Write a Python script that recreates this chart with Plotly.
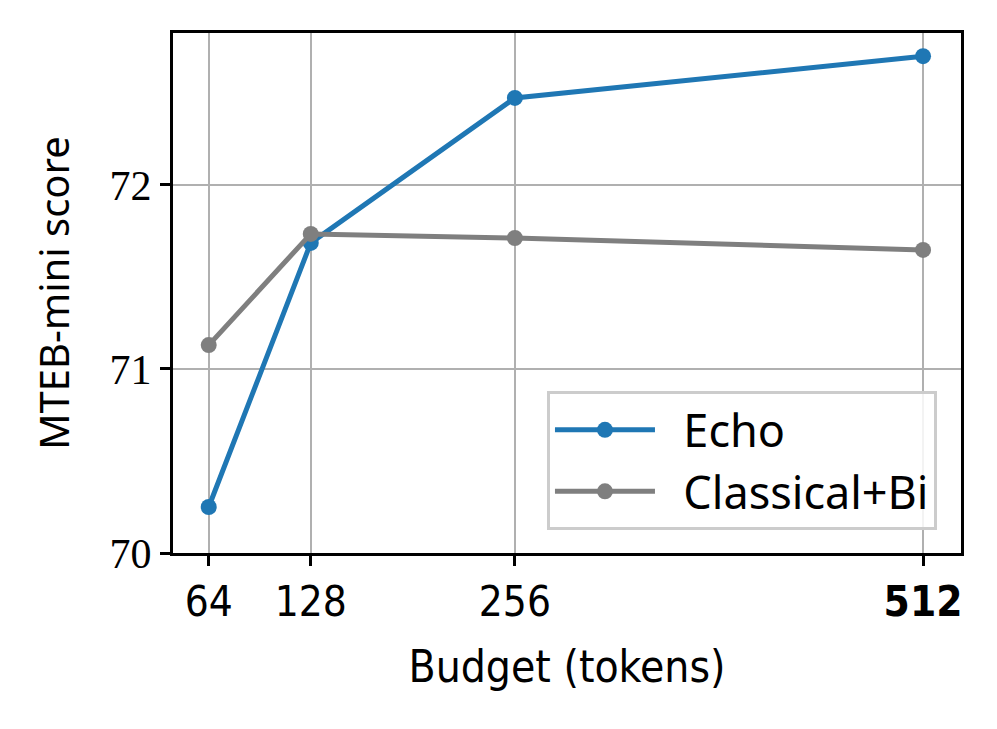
import plotly.graph_objects as go

budgets = [64, 128, 256, 512]
tick_labels = ["64", "128", "256", "<b>512</b>"]
echo_scores = [70.25, 71.685, 72.473, 72.70]
classical_scores = [71.13, 71.734, 71.712, 71.647]
y_ticks = [70, 71, 72]

sans = "Noto Sans, DejaVu Sans, sans-serif"
narrow = "Liberation Sans Narrow, DejaVu Sans Condensed, sans-serif"

fig = go.Figure()
fig.add_trace(go.Scatter(x=budgets, y=echo_scores, name="\u00a0\u00a0Echo", mode="lines+markers",
                         line=dict(color="#1f77b4", width=5),
                         marker=dict(size=16, color="#1f77b4")))
fig.add_trace(go.Scatter(x=budgets, y=classical_scores, name="\u00a0\u00a0Classical+Bi", mode="lines+markers",
                         line=dict(color="#7f7f7f", width=5),
                         marker=dict(size=16, color="#7f7f7f")))

# page body adds ~8px offset, so the figure is slightly smaller than the window
fig.update_layout(
    width=989, height=721,
    margin=dict(l=165, r=36, t=25, b=176),
    plot_bgcolor="white", paper_bgcolor="white",
    showlegend=True,
    legend=dict(x=0.9695, y=0.044, xanchor="right", yanchor="bottom",
                bgcolor="rgba(255,255,255,0.85)", bordercolor="#cccccc", borderwidth=3,
                font=dict(family=sans, size=45, color="black"),
                itemwidth=100, tracegroupgap=10),
    xaxis=dict(range=[41.6, 535.8], tickvals=budgets, ticktext=tick_labels,
               showgrid=True, gridcolor="#b0b0b0", gridwidth=2,
               showline=True, linecolor="black", linewidth=3, mirror=True,
               ticks="outside", ticklen=10, tickwidth=2.5, tickcolor="black",
               tickfont=dict(family=narrow, size=42, color="black"),
               title=dict(text="Budget (tokens)", standoff=26,
                          font=dict(family=narrow, size=44, color="black")),
               zeroline=False),
    yaxis=dict(range=[70, 72.826], tickvals=y_ticks,
               showgrid=True, gridcolor="#b0b0b0", gridwidth=2,
               showline=True, linecolor="black", linewidth=3, mirror=True,
               ticks="outside", ticklen=10, tickwidth=2.5, tickcolor="black",
               tickfont=dict(family="Liberation Serif, DejaVu Serif, serif", size=42, color="black"),
               title=dict(text="MTEB-mini score", standoff=28,
                          font=dict(family=sans, size=40, color="black")),
               zeroline=False),
)

fig.write_html("out.html")
